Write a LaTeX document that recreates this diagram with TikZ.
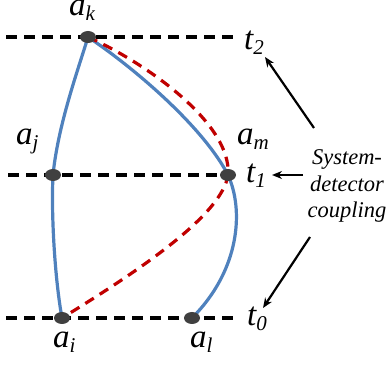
\documentclass[tikz,border=0pt]{standalone}
\usepackage{fontspec}
\setmainfont{Liberation Serif}
\newfontfamily\lserif{Liberation Serif}
\usetikzlibrary{arrows.meta,shapes.geometric}
\definecolor{lblue}{RGB}{79,129,189}
\definecolor{dred}{RGB}{192,0,0}
\definecolor{dotgray}{RGB}{64,64,64}
\newcommand{\symb}[2]{\lserif\itshape #1\raisebox{-5pt}{\fontsize{21}{21}\selectfont\lserif\itshape #2}}
\begin{document}
\begin{tikzpicture}[x=1pt,y=-1pt,
  timeline/.style={line width=3.2pt, dash pattern=on 11pt off 7pt},
  blueline/.style={line width=3.2pt, lblue},
  redline/.style={line width=3.2pt, dred, dash pattern=on 10pt off 7pt},
  vdot/.style={ellipse, fill=dotgray, minimum width=16pt, minimum height=12pt, inner sep=0pt},
  lbl/.style={anchor=base west, inner sep=0pt, text height=14pt, font=\fontsize{33}{35}\selectfont},
  arr/.style={line width=2.2pt, -{Stealth[length=10pt,width=8pt]}}]
\useasboundingbox (0,0) rectangle (389,366);
% time lines
\coordinate (l2a) at (6,37);  \coordinate (l2b) at (238,37);
\coordinate (l1a) at (8,175); \coordinate (l1b) at (240,175);
\coordinate (l0a) at (6,318); \coordinate (l0b) at (240,318);
\draw[timeline] (l2a) -- (l2b);
\draw[timeline] (l1a) -- (l1b);
\draw[timeline] (l0a) -- (l0b);
% dots (positions)
\coordinate (pk) at (88,37);
\coordinate (pj) at (53,175);
\coordinate (pm) at (228,175);
\coordinate (pi) at (62,318);
\coordinate (pl) at (192,318);
% curves
\draw[blueline] (pk) .. controls (78,70) and (58,125) .. (pj)
                     .. controls (51,215) and (55,280) .. (pi);
\draw[blueline] (pk) .. controls (140,72) and (205,130) .. (pm)
                     .. controls (244,210) and (240,270) .. (pl);
\draw[redline] (pk) .. controls (150,65) and (232,125) .. (pm)
                    .. controls (222,215) and (140,270) .. (pi);
% dots
\node[vdot] (ak) at (pk) {};
\node[vdot] (aj) at (pj) {};
\node[vdot] (am) at (pm) {};
\node[vdot] (ai) at (pi) {};
\node[vdot] (al) at (pl) {};
% labels
\node[lbl] (tak) at (69,16) {\symb{a}{k}};
\node[lbl] (taj) at (16,145) {\symb{a}{j}};
\node[lbl] (tam) at (237,145) {\symb{a}{m}};
\node[lbl] (tai) at (53,348) {\symb{a}{i}};
\node[lbl] (tal) at (190,348) {\symb{a}{l}};
\node[lbl] (t2) at (244,50) {\symb{t}{2}};
\node[lbl] (t1) at (246,183) {\symb{t}{1}};
\node[lbl] (t0) at (247,326) {\symb{t}{0}};
% coupling text
\node[align=center, inner sep=0pt, font=\fontsize{22.5}{26.5}\selectfont\lserif\itshape] (coup) at (347,186) {System-\\detector\\coupling};
% arrows
\coordinate (s2) at (314,128); \coordinate (e2) at (265,57);
\coordinate (s1) at (303,175); \coordinate (e1) at (272,175);
\coordinate (s0) at (310,237); \coordinate (e0) at (263,308);
\draw[arr] (s2) -- (e2);
\draw[arr] (s1) -- (e1);
\draw[arr] (s0) -- (e0);
\end{tikzpicture}
\end{document}
